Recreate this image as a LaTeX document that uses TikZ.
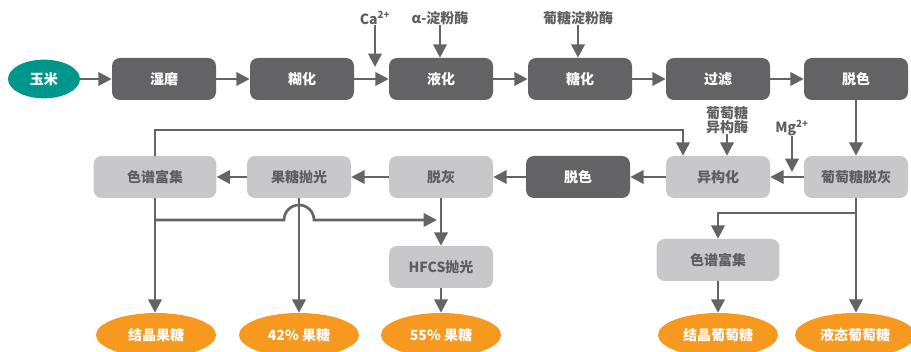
\documentclass[tikz,border=0pt]{standalone}
\usepackage{fontspec}
\setmainfont{Noto Sans CJK SC}
\usetikzlibrary{arrows.meta,shapes.geometric}
\definecolor{dgray}{RGB}{99,99,101}
\definecolor{lgray}{RGB}{200,200,202}
\definecolor{linec}{RGB}{100,100,102}
\definecolor{tealc}{RGB}{0,150,140}
\definecolor{orangec}{RGB}{247,152,31}
\definecolor{textgray}{RGB}{94,94,96}
\begin{document}
\begin{tikzpicture}[x=0.75pt,y=-0.75pt,
  every node/.style={font=\fontsize{10.5}{10.5}\selectfont\bfseries, inner sep=0pt},
  dbox/.style={fill=dgray, text=white, rounded corners=6pt, minimum width=78pt, minimum height=31.5pt},
  lbox/.style={fill=lgray, text=textgray, rounded corners=6pt, minimum width=78pt, minimum height=31.5pt},
  wbox/.style={lbox, minimum width=92pt},
  prod/.style={ellipse, fill=orangec, text=white, minimum width=90pt, minimum height=33pt},
  lab/.style={text=textgray, align=center},
  conn/.style={draw=linec, line width=2pt, -{Triangle[length=10pt,width=10pt]}},
  plain/.style={draw=linec, line width=2pt}
]
\useasboundingbox (0,0) rectangle (911,352);
% row 1
\node[ellipse, fill=tealc, text=white, minimum width=54pt, minimum height=29pt] (ym) at (44,79) {玉米};
\node[dbox] (sm) at (164,79) {湿磨};
\node[dbox] (hh) at (302,79) {糊化};
\node[dbox] (yh) at (441,79) {液化};
\node[dbox] (th1) at (580,79) {糖化};
\node[dbox] (gl) at (718,79) {过滤};
\node[dbox] (ts1) at (856,79) {脱色};
% labels row 1
\node[lab] (ca) at (375,18) {Ca\textsuperscript{2+}};
\node[lab] (af) at (440,18) {α-淀粉酶};
\node[lab] (pt) at (578,18) {葡糖淀粉酶};
\coordinate (catip) at (375,67);
% row 2
\node[wbox] (sp) at (155,177) {色谱富集};
\node[lbox] (gtp) at (299,177) {果糖抛光};
\node[lbox] (th) at (441,177) {脱灰};
\node[dbox] (ts2) at (578,177) {脱色};
\node[lbox] (yg) at (718,177) {异构化};
\node[lbox] (ptth) at (856,177) {葡萄糖脱灰};
\node[lab] (iso) at (727,120) {葡萄糖\\异构酶};
\node[lab] (mg) at (792,128) {Mg\textsuperscript{2+}};
\coordinate (mgtip) at (792,172);
% row 3
\node[lbox] (hf) at (441,267) {HFCS抛光};
\node[wbox] (sp2) at (718,260) {色谱富集};
% products
\node[prod] (p1) at (156,335) {结晶果糖};
\node[prod] (p2) at (299,335) {42\% 果糖};
\node[prod] (p3) at (441,335) {55\% 果糖};
\node[prod] (p4) at (718,335) {结晶葡萄糖};
\node[prod] (p5) at (855,335) {液态葡萄糖};
% row 1 connectors
\draw[conn] (ym) -- (sm);
\draw[conn] (sm) -- (hh);
\draw[conn] (hh) -- (yh);
\draw[conn] (yh) -- (th1);
\draw[conn] (th1) -- (gl);
\draw[conn] (gl) -- (ts1);
\draw[conn] (ca) -- (catip);
\draw[conn] (af) -- (af |- yh.north);
\draw[conn] (pt) -- (pt |- th1.north);
% row 2 connectors
\draw[conn] (ts1) -- (ptth);
\draw[conn] (ptth) -- (yg);
\draw[conn] (yg) -- (ts2);
\draw[conn] (ts2) -- (th);
\draw[conn] (th) -- (gtp);
\draw[conn] (gtp) -- (sp);
\draw[conn] (iso) -- (iso |- yg.north);
\draw[conn] (mg) -- (mgtip);
\coordinate (loopc) at (683,130);
\draw[conn] (sp.north) |- (loopc) -- (loopc |- yg.north);
% down from row 2
\draw[conn] (sp.south) -- (sp.south |- p1.north);
\draw[conn] (gtp.south) -- (gtp.south |- p2.north);
\draw[conn] (th) -- (hf);
\draw[conn] (hf) -- (hf.south |- p3.north);
\coordinate (jb) at (155,220);
\coordinate (jend) at (437,220);
\draw[conn] (jb) -- (284,220) arc (180:360:15) -- (jend);
\coordinate (gb) at (856,213);
\draw[conn] (ptth.south) -- (ptth.south |- p5.north);
\draw[conn] (gb) -| (sp2.north);
\draw[conn] (sp2) -- (sp2.south |- p4.north);
\end{tikzpicture}
\end{document}
